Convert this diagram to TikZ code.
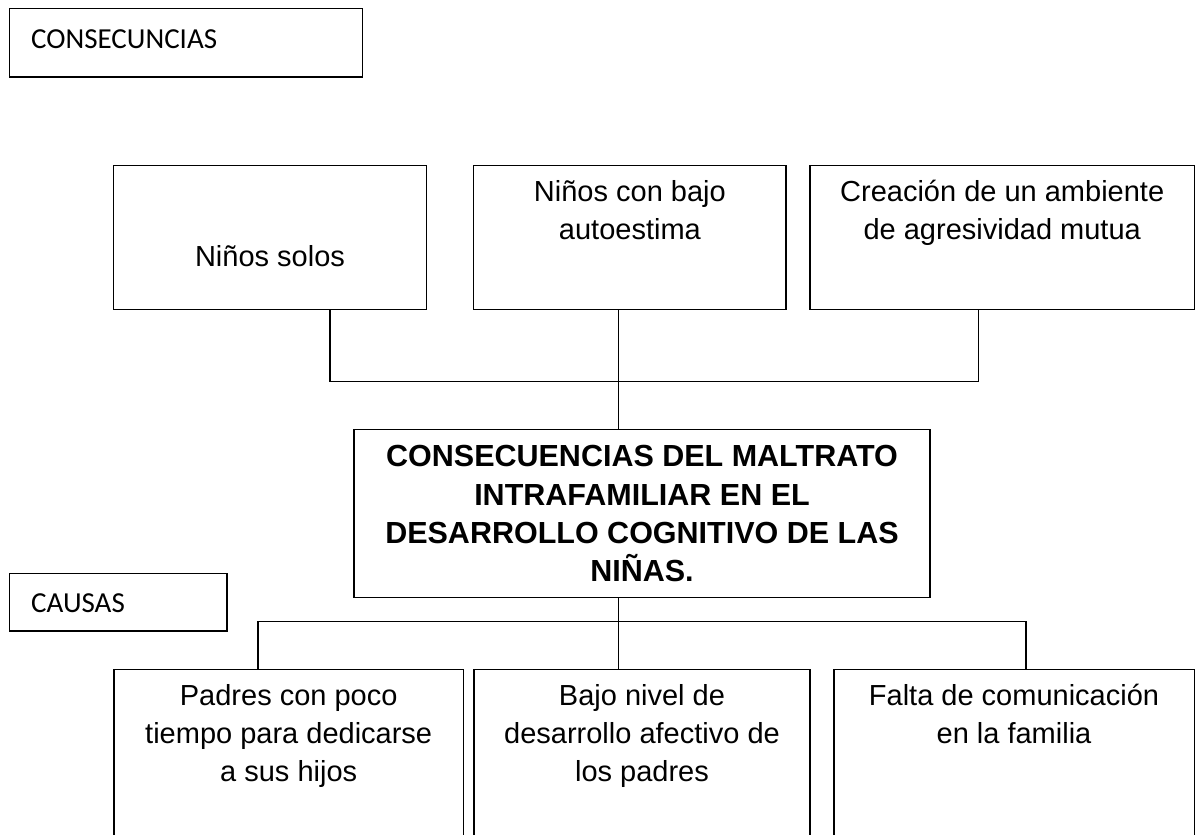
\documentclass[tikz,border=0pt]{standalone}
\usepackage{fontspec}
\setmainfont{Liberation Sans}
\newfontfamily\calibrifont{Carlito}
\begin{document}
\begin{tikzpicture}[x=1pt,y=-1pt,
  box/.style={draw, line width=1.5pt, inner sep=0pt, outer sep=0pt, anchor=north west},
  txt/.style={inner sep=0pt, anchor=base, font=\fontsize{29}{38.3}\selectfont},
  boldtxt/.style={inner sep=0pt, anchor=base, font=\fontsize{30.5}{38.3}\selectfont\bfseries},
  lbl/.style={inner sep=0pt, anchor=base west, font=\calibrifont\fontsize{29}{35}\selectfont},
  link/.style={line width=1.5pt}]
\useasboundingbox (0,0) rectangle (1202,835);
\clip (0,0) rectangle (1202,835);
% label boxes
\node[box, minimum width=353pt, minimum height=68.5pt] (cons) at (9.5,8.5) {};
\node[lbl] (consT) at (31,48.3) {CONSECUNCIAS};
\node[box, minimum width=217.3pt, minimum height=57.7pt] (caus) at (9.7,573.3) {};
\node[lbl] (causT) at (31,612) {CAUSAS};
% top boxes
\node[box, minimum width=313.2pt, minimum height=143.6pt] (t1) at (113.5,165.7) {};
\node[box, minimum width=312.3pt, minimum height=143.6pt] (t2) at (473.7,165.7) {};
\node[box, minimum width=384.3pt, minimum height=143.6pt] (t3) at (810,165.7) {};
\node[txt] (t1T) at (270,266.7) {Niños solos};
\node[txt] (t2T) at (629.9,201) {\begin{tabular}[t]{@{}c@{}}Niños con bajo\\autoestima\end{tabular}};
\node[txt] (t3T) at (1002.2,201) {\begin{tabular}[t]{@{}c@{}}Creación de un ambiente\\de agresividad mutua\end{tabular}};
% central box
\node[box, minimum width=576pt, minimum height=168.2pt] (cen) at (354,429.3) {};
\node[boldtxt] (cenT) at (642,466.7) {\begin{tabular}[t]{@{}c@{}}CONSECUENCIAS DEL MALTRATO\\INTRAFAMILIAR EN EL\\DESARROLLO COGNITIVO DE LAS\\NIÑAS.\end{tabular}};
% bottom boxes
\node[box, minimum width=349.3pt, minimum height=200pt] (d1) at (114,669.5) {};
\node[box, minimum width=336pt, minimum height=200pt] (d2) at (474,669.5) {};
\node[box, minimum width=360.3pt, minimum height=200pt] (d3) at (834,669.5) {};
\node[txt] (d1T) at (288.7,705) {\begin{tabular}[t]{@{}c@{}}Padres con poco\\tiempo para dedicarse\\a sus hijos\end{tabular}};
\node[txt] (d2T) at (642,705) {\begin{tabular}[t]{@{}c@{}}Bajo nivel de\\desarrollo afectivo de\\los padres\end{tabular}};
\node[txt] (d3T) at (1014,705) {\begin{tabular}[t]{@{}c@{}}Falta de comunicación\\en la familia\end{tabular}};
% junction coordinates
\coordinate (h1) at (330,381.5);
\coordinate (h3) at (978.7,381.5);
\coordinate (mid) at (618.3,0);
\coordinate (k1) at (258,621.5);
\coordinate (k2) at (618.3,621.5);
\coordinate (k3) at (1026,621.5);
% connectors
\draw[link] (t1.south -| h1) -- (h1) -- (h3) -- (t3.south -| h3);
\draw[link] (t2.south -| mid) -- (cen.north -| mid);
\draw[link] (cen.south -| mid) -- (d2.north -| mid);
\draw[link] (d1.north -| k1) -- (k1) -- (k3) -- (d3.north -| k3);
\end{tikzpicture}
\end{document}
